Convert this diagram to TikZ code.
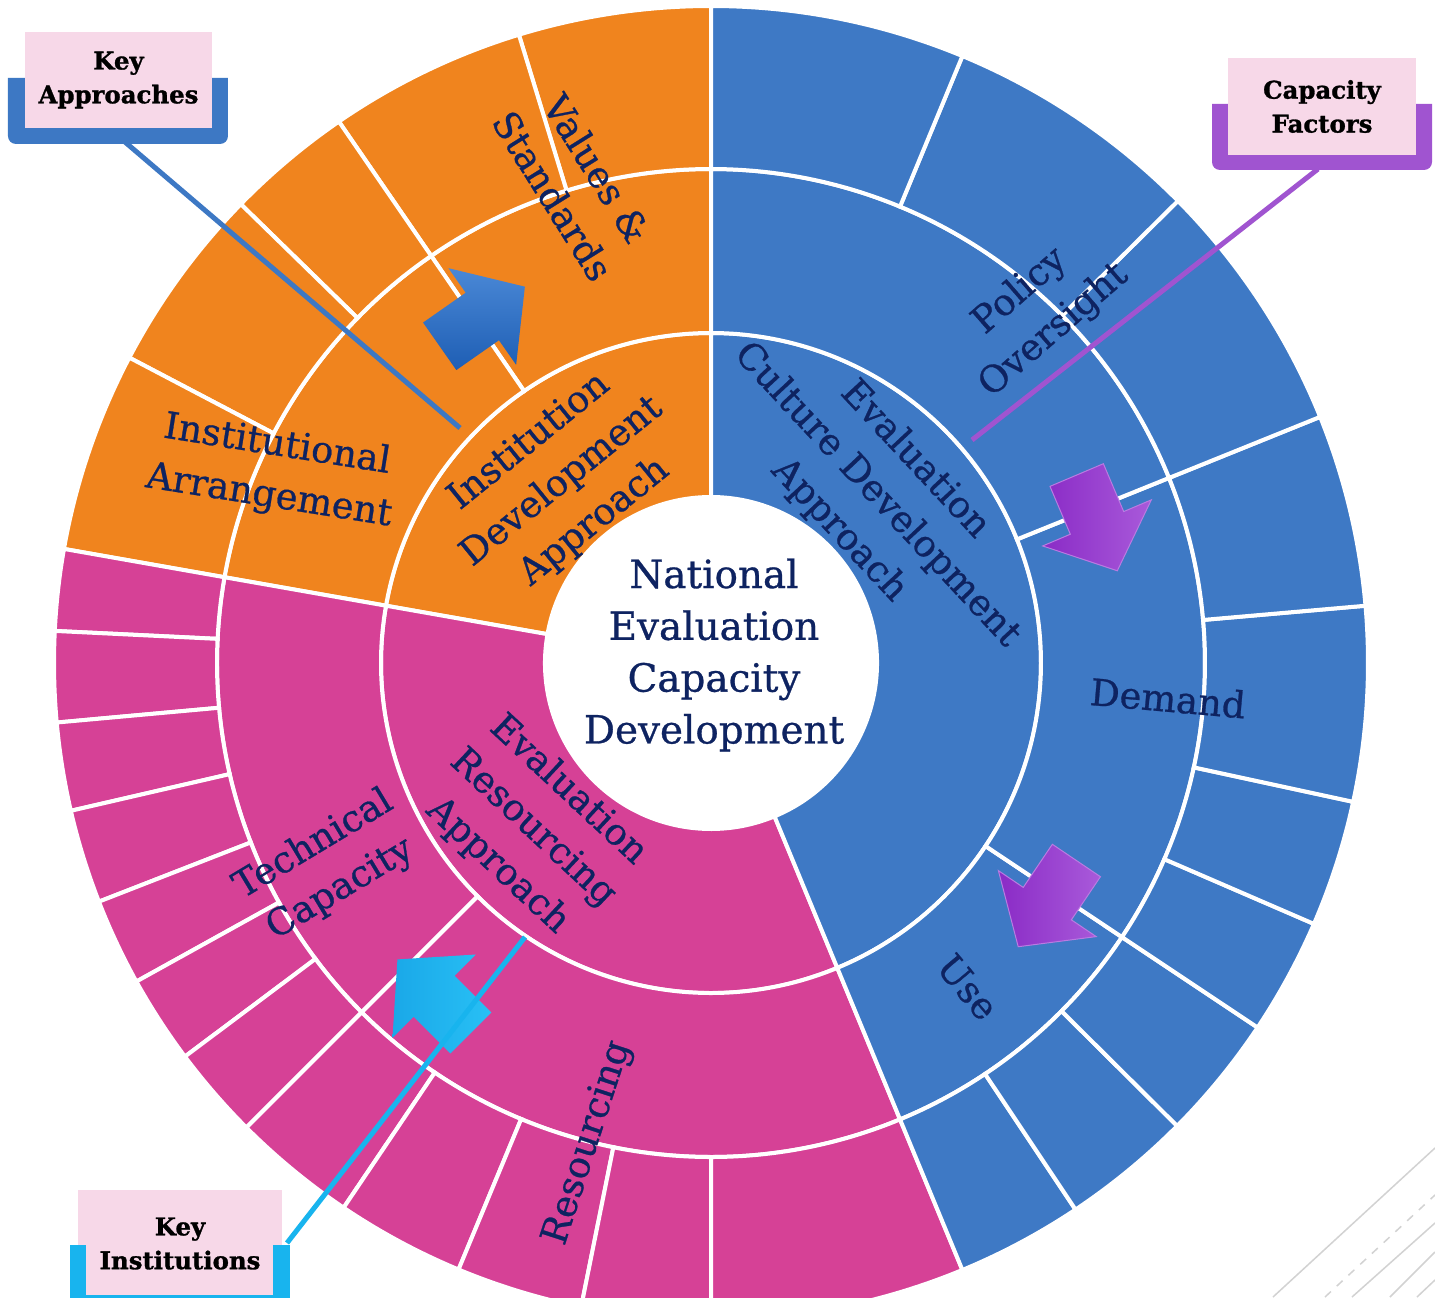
\documentclass[tikz,border=0pt]{standalone}
\usepackage{fontspec}
\setmainfont{DejaVu Serif}
\newfontfamily\lblfont{DejaVu Serif}[FakeBold=0.7]
\newfontfamily\callfont{DejaVu Serif Bold}[FakeBold=1.2]
\definecolor{orng}{HTML}{F0841E}
\definecolor{pnk}{HTML}{D64196}
\definecolor{blu}{HTML}{3E79C5}
\definecolor{navy}{HTML}{0E2361}
\definecolor{callpink}{HTML}{F7D8E8}
\definecolor{brkblue}{HTML}{3D78C4}
\definecolor{brkpurp}{HTML}{A054D0}
\definecolor{brkcyan}{HTML}{18B4EE}
\definecolor{deco}{HTML}{D2D2D2}
\definecolor{arrblueA}{HTML}{4A88D6}
\definecolor{arrblueB}{HTML}{1E5EB4}
\definecolor{arrpurpA}{HTML}{8A2BC6}
\definecolor{arrpurpB}{HTML}{A95ADA}
\definecolor{arrcyanA}{HTML}{1AA8E8}
\definecolor{arrcyanB}{HTML}{28C0F5}
\tikzset{
  segstyle/.style={draw=white, line width=4bp},
  lbl/.style={text=navy, font=\lblfont\fontsize{37}{52}\selectfont, align=center, inner sep=0pt},
  ctrlbl/.style={text=navy, font=\lblfont\fontsize{39}{52}\selectfont, align=center, inner sep=0pt},
  callbox/.style={fill=callpink, inner sep=0pt, font=\callfont\fontsize{24.5}{34}\selectfont, align=center, text=black},
  leader/.style={line width=5bp},
  decoline/.style={draw=deco, line width=1.5bp},
}
\newcommand{\ringseg}[5]{%
  \filldraw[fill=#1, segstyle] (#2:#4) arc[start angle=#2, end angle=#3, radius=#4]
    -- (#3:#5) arc[start angle=#3, end angle=#2, radius=#5] -- cycle;}
\newcommand{\blockarrow}[4]{%
  \begin{scope}[shift={(#1,#2)}, rotate=#3]
    \path[#4] (-52,-29) -- (0,-29) -- (0,-59) -- (52,0) -- (0,59) -- (0,29) -- (-52,29) -- cycle;
  \end{scope}}
\begin{document}
\begin{tikzpicture}[x=1bp, y=1bp]
\useasboundingbox (-711,-634) rectangle (724,663);
\fill[white] (-711,-634) rectangle (724,663);

% inner ring
\ringseg{orng}{90}{170}{166}{330}
\ringseg{pnk}{170}{292.5}{166}{330}
\ringseg{blu}{292.5}{450}{166}{330}
% middle ring
\foreach \a/\b in {90/124.5,124.5/170}{\ringseg{orng}{\a}{\b}{330}{494}}
\foreach \a/\b in {170/225,225/292.5}{\ringseg{pnk}{\a}{\b}{330}{494}}
\foreach \a/\b in {292.5/326.3,326.3/382,382/450}{\ringseg{blu}{\a}{\b}{330}{494}}
% outer ring
\foreach \a/\b in {90/107,107/124.5,124.5/135.7,135.7/152.3,152.3/170}{\ringseg{orng}{\a}{\b}{494}{657}}
\foreach \a/\b in {170/177.2,177.2/185.2,185.2/193,193/201.3,201.3/209,209/216.8,216.8/225,225/236,236/247.4,247.4/258.6,258.6/270,270/292.5}{\ringseg{pnk}{\a}{\b}{494}{657}}
\foreach \a/\b in {292.5/303.7,303.7/315.2,315.2/326.3,326.3/336.6,336.6/347.8,347.8/365,365/382,382/404.7,404.7/427.5,427.5/450}{\ringseg{blu}{\a}{\b}{494}{657}}

% centre label
\node[ctrlbl] (centre) at (3,8) {National\\Evaluation\\Capacity\\Development};

% ring labels
\node[lbl, rotate=-47] (culture) at (166,168) {Evaluation\\Culture Development\\Approach};
\node[lbl, rotate=41] (policy) at (326,352) {Policy\\Oversight};
\node[lbl, rotate=-5] (demand) at (457,-35) {Demand};
\node[lbl, rotate=-50] (use) at (257,-324) {Use};
\node[lbl, rotate=-43] (resapp) at (-178,-165) {Evaluation\\Resourcing\\Approach};
\node[lbl, rotate=31] (techcap) at (-384,-204) {Technical\\Capacity};
\node[lbl, rotate=72] (resourcing) at (-123,-480) {Resourcing};
\node[lbl, rotate=-9] (instarr) at (-438,192) {Institutional\\Arrangement};
\node[lbl, rotate=39] (instdev) at (-149,181) {Institution\\Development\\Approach};
\node[lbl, rotate=-58] (values) at (-136,481) {Values \&\\Standards};

% block arrows
\blockarrow{-228.7}{346.5}{35}{top color=arrblueA, bottom color=arrblueB}
\blockarrow{386}{140.1}{-67}{left color=arrpurpA, right color=arrpurpB, draw=arrpurpB!80!white, line width=1bp}
\blockarrow{336.3}{-240.6}{-124}{left color=arrpurpA, right color=arrpurpB, draw=arrpurpB!80!white, line width=1bp}
\blockarrow{-276.8}{-333.2}{135}{left color=arrcyanA, right color=arrcyanB}

% callout: Key Approaches
\fill[brkblue] (-703,585) [rounded corners=8bp] -- (-703,519) -- (-483,519) [sharp corners] -- (-483,585) -- cycle;
\node[callbox, minimum width=187bp, minimum height=96bp] (keyapp) at (-592.5,583) {Key\\Approaches};
\coordinate (keyappfoot) at (-586,521);
\coordinate (keyappend) at (-251,235);
\draw[leader, draw=brkblue] (keyappfoot) -- (keyappend);

% callout: Capacity Factors
\fill[brkpurp] (501,559) [rounded corners=8bp] -- (501,493) -- (721,493) [sharp corners] -- (721,559) -- cycle;
\node[callbox, minimum width=188bp, minimum height=97bp] (capfac) at (611,556.5) {Capacity\\Factors};
\coordinate (capfacfoot) at (607,494);
\coordinate (capfacend) at (261,223);
\draw[leader, draw=brkpurp] (capfacfoot) -- (capfacend);

% callout: Key Institutions
\node[callbox, minimum width=204bp, minimum height=107bp] (keyinst) at (-531,-580.5) {Key\\Institutions};
\fill[brkcyan] (-641,-582) rectangle (-625,-640);
\fill[brkcyan] (-438,-582) rectangle (-421,-640);
\fill[brkcyan] (-641,-632) rectangle (-421,-640);
\coordinate (keyinstfoot) at (-424,-580);
\coordinate (keyinstend) at (-186,-274);
\draw[leader, draw=brkcyan] (keyinstfoot) -- (keyinstend);

% background decoration, bottom right
\draw[decoline] (562,-634) -- (724,-485);
\draw[decoline, dash pattern=on 8bp off 8bp] (614,-634) -- (724,-532);
\draw[decoline] (641,-634) -- (724,-560);
\draw[decoline] (679,-634) -- (724,-589);
\draw[decoline] (706,-634) -- (724,-617);
\end{tikzpicture}
\end{document}
